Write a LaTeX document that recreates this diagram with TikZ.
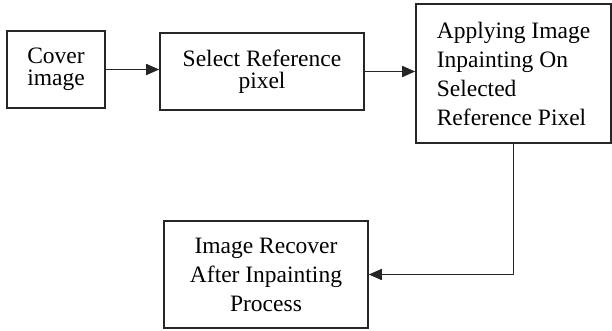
\documentclass[tikz,border=0pt]{standalone}
\usepackage{fontspec}
\setmainfont{Liberation Serif}
\usetikzlibrary{arrows.meta}
\begin{document}
\begin{tikzpicture}[x=1pt,y=1pt,
  box/.style={draw=black!85,line width=1.6pt,inner sep=0pt,fill=white},
  tight/.style={font=\fontsize{23.5}{22}\selectfont},
  loose/.style={font=\fontsize{23.5}{29}\selectfont},
  conn/.style={line width=1.6pt,draw=black!85,-{Triangle[length=13pt,width=11pt]}}]
\useasboundingbox (0,0) rectangle (612,330);
\node[box,tight,minimum width=98pt,minimum height=77pt,align=left] (b1) at (56,260.5) {Cover\\image};
\node[box,tight,minimum width=204pt,minimum height=77pt,align=center] (b2) at (262,258.5) {Select Reference\\pixel};
\node[box,loose,minimum width=195pt,minimum height=139pt,align=left] (b3) at (513.5,256.5) {Applying Image\\Inpainting On\\Selected\\Reference Pixel};
\node[box,loose,minimum width=204pt,minimum height=107pt,align=center] (b4) at (266,55.5) {Image Recover\\After Inpainting\\Process};
\draw[conn] (b1.east) -- (b1.east -| b2.west);
\draw[conn] (b2.east) -- (b2.east -| b3.west);
\draw[conn] (b3.south) |- (b4.east);
\end{tikzpicture}
\end{document}
